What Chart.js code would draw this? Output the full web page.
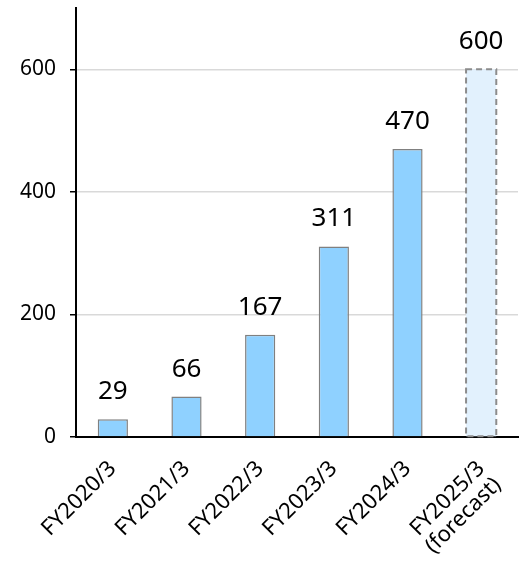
<!DOCTYPE html>
<html>
<head>
<meta charset="utf-8">
<script src="https://cdn.jsdelivr.net/npm/chart.js@4"></script>
<style>
  html, body { margin: 0; padding: 0; background: #fff; }
  #wrap { width: 529px; height: 563px; }
</style>
</head>
<body>
<div id="wrap"><canvas id="barChart"></canvas></div>
<script>
// data
const categories = [
  "FY2020/3", "FY2021/3", "FY2022/3", "FY2023/3", "FY2024/3",
  ["FY2025/3", "(forecast)"],
];
const values = [29, 66, 167, 311, 470, 600];
const isForecast = [false, false, false, false, false, true];
const yTicks = [0, 200, 400, 600];

const FONT = "'Noto Sans', 'Liberation Sans', sans-serif";

// value labels above the bars + dashed outline for forecast
const barExtras = {
  id: "barExtras",
  afterDatasetsDraw(chart) {
    const ctx = chart.ctx;
    const meta = chart.getDatasetMeta(0);
    ctx.save();
    meta.data.forEach((bar, i) => {
      if (isForecast[i]) {
        const half = bar.width / 2;
        ctx.strokeStyle = "#8c8c8c";
        ctx.lineWidth = 2;
        ctx.setLineDash([6, 4]);
        ctx.strokeRect(bar.x - half, bar.y, bar.width, bar.base - bar.y);
        ctx.setLineDash([]);
      }
      ctx.fillStyle = "#000";
      ctx.font = "26px " + FONT;
      ctx.textAlign = "center";
      ctx.textBaseline = "alphabetic";
      ctx.fillText(String(values[i]), bar.x, bar.y - 20);
    });
    ctx.restore();
  },
};

new Chart(document.getElementById("barChart"), {
  type: "bar",
  data: {
    labels: categories,
    datasets: [
      {
        data: values,
        backgroundColor: isForecast.map((f) => (f ? "#e2f1fd" : "#8fd1ff")),
        borderColor: "#808080",
        borderWidth: isForecast.map((f) => (f ? 0 : 1.5)),
        categoryPercentage: 1,
        barPercentage: 0.41,
      },
    ],
  },
  options: {
    responsive: true,
    maintainAspectRatio: false,
    animation: false,
    layout: { padding: { top: 8, right: 11, left: 0, bottom: 0 } },
    plugins: {
      legend: { display: false },
      tooltip: { enabled: false },
    },
    scales: {
      y: {
        min: 0,
        max: 700,
        afterBuildTicks(scale) {
          scale.ticks = yTicks.map((v) => ({ value: v }));
        },
        afterFit(scale) {
          scale.width = 76;
          scale.paddingTop = 0;
          scale.paddingBottom = 0;
        },
        border: { display: true, color: "#000", width: 2 },
        grid: {
          color: "#d9d9d9",
          lineWidth: 1.5,
          tickColor: "#000",
          tickLength: 6,
        },
        ticks: {
          color: "#000",
          padding: 14,
          font: { family: FONT, size: 21 },
        },
      },
      x: {
        afterFit(scale) {
          scale.height = 126;
          scale.paddingLeft = 0;
          scale.paddingRight = 0;
        },
        border: { display: true, color: "#000", width: 2 },
        grid: { display: false },
        ticks: {
          color: "#000",
          maxRotation: 45,
          minRotation: 45,
          padding: 12,
          font: { family: FONT, size: 22, lineHeight: 1.05 },
        },
      },
    },
  },
  plugins: [barExtras],
});
</script>
</body>
</html>
